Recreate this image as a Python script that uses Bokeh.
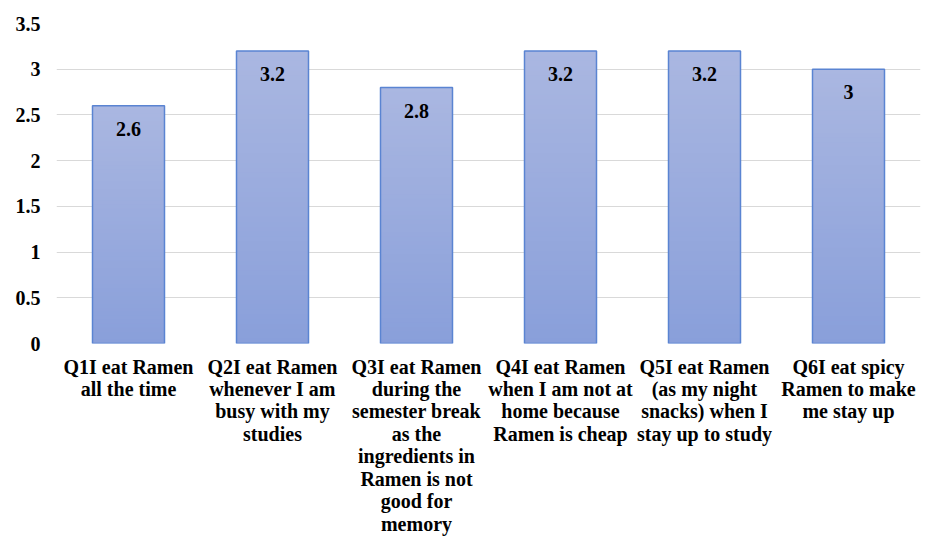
import numpy as np
from bokeh.plotting import figure
from bokeh.models import FixedTicker, ColumnDataSource, Range1d
from bokeh.embed import file_html
from bokeh.resources import INLINE
from bokeh.core.properties import value

categories = [
    "Q1I eat Ramen\nall the time",
    "Q2I eat Ramen\nwhenever I am\nbusy with my\nstudies",
    "Q3I eat Ramen\nduring the\nsemester break\nas the\ningredients in\nRamen is not\ngood for\nmemory",
    "Q4I eat Ramen\nwhen I am not at\nhome because\nRamen is cheap",
    "Q5I eat Ramen\n(as my night\nsnacks) when I\nstay up to study",
    "Q6I eat spicy\nRamen to make\nme stay up",
]
values = [2.6, 3.2, 2.8, 3.2, 3.2, 3.0]
value_labels = ["2.6", "3.2", "2.8", "3.2", "3.2", "3"]
y_ticks = [0, 0.5, 1, 1.5, 2, 2.5, 3, 3.5]
y_tick_labels = ["0", "0.5", "1", "1.5", "2", "2.5", "3", "3.5"]

FONT = "Liberation Serif"
FSIZE = "20px"
n = len(categories)
xs = np.arange(n) + 0.5

p = figure(width=929, height=545, x_range=Range1d(0, n), y_range=Range1d(0, 3.5),
           output_backend="svg", toolbar_location=None,
           min_border_left=56, min_border_top=23, min_border_right=9, min_border_bottom=202)
p.outline_line_color = None
p.background_fill_color = "white"
p.border_fill_color = "white"

# gradient bars via overlapping horizontal strips
N = 60
top_c = np.array([170, 183, 225])
bot_c = np.array([137, 159, 218])
sx, sb, st, sc = [], [], [], []
for x, v in zip(xs, values):
    for k in range(N):
        f = (k + 0.5) / N
        c = bot_c + (top_c - bot_c) * f
        sx.append(x)
        sb.append(v * k / N)
        st.append(min(v, v * (k + 2) / N))
        sc.append("#%02x%02x%02x" % tuple(int(round(t)) for t in c))
p.vbar(x=sx, bottom=sb, top=st, width=0.5, fill_color=sc, line_color=None)
p.vbar(x=xs, top=values, width=0.5, fill_color=None, line_color="#5a84d2", line_width=1.5)

src = ColumnDataSource(dict(x=xs, y=values, t=value_labels))
p.text(x="x", y="y", text="t", source=src, text_align="center", text_baseline="middle",
       y_offset=23, text_font=value(FONT), text_font_style="bold", text_font_size=FSIZE,
       text_color="black")

p.xgrid.grid_line_color = None
p.ygrid.grid_line_color = "#d9d9d9"
p.ygrid.grid_line_width = 1
p.ygrid.ticker = FixedTicker(ticks=y_ticks)

p.yaxis.ticker = FixedTicker(ticks=y_ticks)
p.yaxis.major_label_overrides = {t: l for t, l in zip(y_ticks, y_tick_labels)}
p.xaxis.ticker = FixedTicker(ticks=list(xs))
p.xaxis.major_label_overrides = {float(x): c for x, c in zip(xs, categories)}
for ax in (p.xaxis, p.yaxis):
    ax.axis_line_color = None
    ax.major_tick_line_color = None
    ax.minor_tick_line_color = None
    ax.major_label_text_font = FONT
    ax.major_label_text_font_style = "bold"
    ax.major_label_text_font_size = FSIZE
    ax.major_label_text_color = "black"
p.xaxis.major_label_text_line_height = 1.02
p.yaxis.major_label_standoff = 10
p.xaxis.major_label_standoff = 6

open("out.html", "w").write(file_html(p, INLINE))
